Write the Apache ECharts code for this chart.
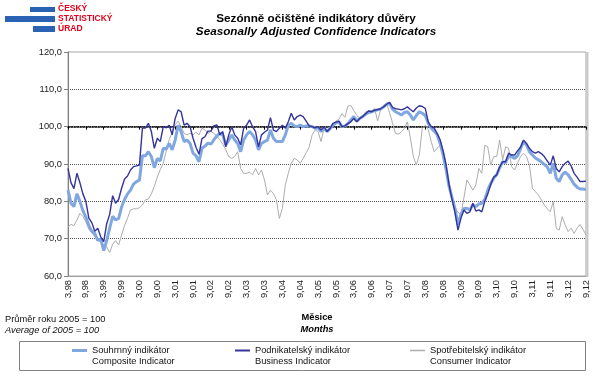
<!DOCTYPE html>
<html>
<head>
<meta charset="utf-8">
<script src="https://cdn.jsdelivr.net/npm/echarts@6/dist/echarts.min.js"></script>
<style>html,body{margin:0;padding:0;background:#fff}#c{width:600px;height:384px}</style>
</head>
<body>
<div id="c"></div>
<script>
// Category labels: months from 3/1998 to 9/2012 (displayed as "M,YY")
const startMonth = 3, startYear = 1998, monthCount = 175;
const months = [];
for (let k = 0; k < monthCount; k++) {
  const t = startMonth - 1 + k;
  const m = t % 12 + 1;
  const y = (startYear + Math.floor(t / 12)) % 100;
  months.push(m + ',' + (y < 10 ? '0' + y : '' + y));
}

const yTicks = [60, 70, 80, 90, 100, 110, 120];

const compositeName = 'Souhrnný indikátor';
const businessName = 'Podnikatelský indikátor';
const consumerName = 'Spotřebitelský indikátor';
const englishNames = {
  'Souhrnný indikátor': 'Composite Indicator',
  'Podnikatelský indikátor': 'Business Indicator',
  'Spotřebitelský indikátor': 'Consumer Indicator'
};

const composite = [
  83, 79.5, 78.6, 82, 80, 77.5, 75.8, 73.5, 72, 71.4,
  69.5, 69.9, 66.8, 69.5, 72.8, 76, 75, 75.4, 78.5, 80.5,
  82, 83, 84.6, 85.3, 85.7, 92.2, 92.2, 93.3, 92, 89,
  91.5, 90.8, 94.2, 94, 95.5, 93.8, 96.4, 100.4, 98.7, 96,
  96.4, 95.5, 92.9, 92.2, 90.6, 94.2, 94.8, 95.6, 95.3, 96.5,
  97.5, 98.2, 97.8, 95.1, 96.4, 97.8, 96.4, 95.5, 93.3, 96.4,
  97.8, 98.7, 97.8, 96.4, 93.8, 95.5, 96, 96.4, 99.1, 96.9,
  96, 96, 96, 97.8, 100.4, 100.9, 100.2, 100, 100.4, 100,
  100.2, 100.2, 100, 99.6, 99.7, 98.7, 99.6, 98.7, 99.4, 100.4,
  101, 101.3, 100, 100.2, 100.8, 101.8, 102.7, 101.5, 102.2, 102.7,
  103.3, 103.8, 104, 104.3, 104.5, 104.7, 105.3, 106, 106.3, 104.7,
  104, 103.6, 103.1, 103.8, 104, 103.1, 101.8, 103, 104, 103.6,
  103, 100.9, 99.6, 98.8, 97.8, 95.5, 92.5, 88.5, 84, 81,
  78, 73.7, 76.5, 78.1, 78.1, 77.7, 79.1, 78.6, 79.3, 79.5,
  80.5, 83, 84.8, 86.2, 87.1, 89, 90.6, 90.4, 92.2, 92,
  91.5, 92.2, 94, 96, 95.1, 93.3, 92.4, 91.6, 91.1, 90.6,
  89.9, 89.2, 87.5, 90.2, 86.2, 85.3, 87.1, 87.8, 87.1, 85.9,
  84.6, 83.8, 83.3, 83.3, 83.2
];

const business = [
  88.8, 85, 83.4, 87.5, 85, 82, 80, 75.5, 74.3, 72,
  72.8, 70.5, 69.2, 74, 76.5, 81.5, 79.5, 80.5, 83.5, 86,
  86.8, 88.4, 89.3, 89.5, 89.7, 99.6, 99.6, 100.9, 98.7, 94.2,
  96.9, 96, 100, 99.7, 100.4, 97.8, 102.2, 104.5, 104, 100.4,
  100.9, 100, 96.9, 94.5, 92.6, 96.8, 97.3, 98.8, 98.8, 100.2,
  100.5, 97.8, 98.7, 94.6, 97.8, 100, 97.8, 96.9, 95.1, 99.6,
  100.4, 101.8, 100, 98.7, 94.6, 97.8, 98.5, 99.1, 102.4, 99.1,
  98.7, 99.6, 100.4, 99.6, 101.3, 103.6, 101.8, 102.7, 103.1, 102.7,
  101.5, 100.2, 100, 99.7, 100, 99.1, 100, 98.7, 99.5, 100.9,
  101.2, 101.5, 100, 100.2, 100.8, 101.3, 102.2, 101.3, 102.2, 102.7,
  103.5, 104.2, 104, 104.4, 104.6, 104.8, 105.3, 106, 106.5, 105.2,
  104.8, 104.7, 104.5, 104.8, 105.3, 104.6, 104, 105, 105.6, 105.4,
  104.9, 101.3, 100, 99.6, 98.2, 96.5, 93.5, 89.8, 84.5, 80.5,
  77, 72.3, 75.5, 77.7, 76.8, 77.2, 79.5, 77.4, 77.7, 77.2,
  80, 82, 84.5, 86.5, 87.1, 89.2, 90.6, 90.6, 92.9, 92.4,
  92.4, 93.5, 94.5, 96.4, 95.5, 94.2, 93.3, 92.9, 93.3, 92.8,
  92, 90.8, 89.7, 92.2, 88.8, 87.9, 89.3, 90.2, 90.8, 89.5,
  87.5, 86.5, 85.3, 85.3, 85.4
];

const consumer = [
  73.2, 73.8, 73.5, 75, 76.8, 76, 74.5, 72.5, 71.6, 70.5,
  69.8, 69, 68.3, 67.8, 66.3, 68.5, 69.5, 68.3, 71, 73.5,
  75.5, 77.7, 78, 78, 78.3, 79, 80.4, 80.6, 82, 84,
  86.5, 88.5, 90.2, 93.5, 96.5, 98.5, 100.5, 101.5, 100, 98.2,
  97.8, 98.2, 97.8, 98.5, 97.8, 99.6, 99.1, 98.2, 98.7, 98.2,
  97.5, 96.5, 95.3, 93.8, 92, 91.5, 92, 93.3, 88.8, 87.5,
  87.5, 87.8, 87.1, 88.8, 87.1, 88.4, 85.7, 81.7, 83, 82.1,
  80.4, 75.4, 78.1, 84.4, 87.5, 90.2, 91.5, 91.1, 90.2, 91.5,
  93, 94.5, 97.8, 99.1, 98.7, 96, 99.6, 99.1, 100, 100.4,
  101.5, 102, 103.5, 102.5, 105.5, 105.7, 104.3, 103, 102.3, 102.8,
  104, 104.3, 104.2, 104.9, 101.5, 104.5, 105.6, 106.2, 103.8, 101,
  98.2, 98, 98.6, 99.5, 101.3, 97, 92, 89.7, 92.4, 99.5,
  100.4, 99.3, 96, 93.3, 94.2, 95.1, 91.5, 88, 85, 81.5,
  78.5, 77, 76.5, 81, 85.7, 84.4, 83, 84.4, 88.8, 87.5,
  95, 94.6, 89.7, 92, 92, 96.4, 91.1, 94.6, 94.2, 89.3,
  88.4, 90.2, 92, 92.9, 92, 89.7, 83.5, 82.6, 81.7, 80.4,
  79, 78, 77.2, 79.9, 72.8, 72.3, 75.9, 73.7, 71.9, 72.8,
  71.4, 72.8, 73.8, 72.5, 71
];

const FONT = "'Liberation Sans', Arial, sans-serif";
const chart = echarts.init(document.getElementById('c'), null, {renderer: 'canvas'});

function legendItem(name, left, thick) {
  return {
    data: [{ name: name, icon: 'rect' }],
    left: left,
    top: 334,
    padding: 0,
    itemWidth: 15,
    itemHeight: thick,
    selectedMode: false,
    textStyle: {
      fontFamily: FONT, fontSize: 9.3, color: '#111', lineHeight: 11,
      rich: { p: { fontSize: 9.3, lineHeight: 11 } }
    },
    formatter: function (n) { return '{p| }\n' + n + '\n' + englishNames[n]; }
  };
}

const option = {
  animation: false,
  backgroundColor: '#fff',
  textStyle: { fontFamily: FONT },
  grid: { left: 68, right: 14, top: 52, bottom: 108, show: true, borderColor: '#a6a6a6', borderWidth: 1 },
  legend: [
    legendItem(compositeName, 72, 3),
    legendItem(businessName, 235, 2),
    legendItem(consumerName, 410, 1.5)
  ],
  xAxis: [
    {
      type: 'category', data: months, boundaryGap: false, position: 'bottom',
      axisLine: { lineStyle: { color: '#a0a0a0', width: 1 } },
      axisTick: { show: false },
      axisLabel: { interval: 5, rotate: 90, fontSize: 9.3, margin: 4, color: '#222', fontFamily: FONT },
      splitLine: { show: false }
    },
    {
      type: 'category', data: months, boundaryGap: false, position: 'top',
      offset: -(224 * 20 / 60),
      axisLine: { lineStyle: { color: '#000', type: 'dotted', width: 1.5 } },
      axisTick: { show: true, inside: true, interval: 5, length: 3, lineStyle: { color: '#000', width: 1 } },
      axisLabel: { show: false },
      splitLine: { show: false }
    }
  ],
  yAxis: {
    type: 'value', min: yTicks[0], max: yTicks[yTicks.length - 1], interval: 10,
    axisLine: { show: true, lineStyle: { color: '#808080' } },
    axisTick: { show: true, length: 4, lineStyle: { color: '#808080' } },
    axisLabel: {
      fontSize: 9.3, color: '#222', margin: 6, fontFamily: FONT,
      formatter: function (v) { return v.toFixed(1).replace('.', ','); }
    },
    splitLine: { show: true, showMinLine: false, showMaxLine: false, lineStyle: { type: 'dotted', color: '#555', width: 1 } }
  },
  series: [
    {
      name: compositeName, type: 'line', data: composite, xAxisIndex: 0, symbol: 'none', z: 3,
      itemStyle: { color: '#80A7E0' }, lineStyle: { color: '#80A7E0', width: 3 }
    },
    {
      name: businessName, type: 'line', data: business, xAxisIndex: 0, symbol: 'none', z: 4,
      itemStyle: { color: '#34349C' }, lineStyle: { color: '#34349C', width: 1.4 }
    },
    {
      name: consumerName, type: 'line', data: consumer, xAxisIndex: 0, symbol: 'none', z: 2,
      itemStyle: { color: '#ADADAD' }, lineStyle: { color: '#ADADAD', width: 1 }
    }
  ],
  graphic: [
    // logo
    { type: 'rect', shape: { x: 30, y: 7, width: 25, height: 5 }, style: { fill: '#2B63B4' } },
    { type: 'rect', shape: { x: 5, y: 16, width: 50, height: 6 }, style: { fill: '#2B63B4' } },
    { type: 'rect', shape: { x: 33, y: 26, width: 22, height: 6 }, style: { fill: '#2B63B4' } },
    { type: 'text', left: 58, top: 4, style: { text: 'ČESKÝ', fill: '#E3001B', font: 'bold 8.5px ' + FONT } },
    { type: 'text', left: 58, top: 14, style: { text: 'STATISTICKÝ', fill: '#E3001B', font: 'bold 8.5px ' + FONT } },
    { type: 'text', left: 58, top: 24, style: { text: 'ÚRAD', fill: '#E3001B', font: 'bold 8.5px ' + FONT } },
    // titles
    { type: 'text', x: 316, y: 19, style: { text: 'Sezónně očištěné indikátory důvěry', fill: '#000', font: 'bold 11.7px ' + FONT, textAlign: 'center', textVerticalAlign: 'middle' } },
    { type: 'text', x: 316, y: 32, style: { text: 'Seasonally Adjusted Confidence Indicators', fill: '#000', font: 'italic bold 11.7px ' + FONT, textAlign: 'center', textVerticalAlign: 'middle' } },
    // notes
    { type: 'text', x: 5, y: 319, style: { text: 'Průměr roku 2005 = 100', fill: '#111', font: '9.3px ' + FONT, textVerticalAlign: 'middle' } },
    { type: 'text', x: 5, y: 330, style: { text: 'Average of 2005 = 100', fill: '#111', font: 'italic 9.3px ' + FONT, textVerticalAlign: 'middle' } },
    // axis title
    { type: 'text', x: 317, y: 317, style: { text: 'Měsice', fill: '#000', font: 'bold 9.3px ' + FONT, textAlign: 'center', textVerticalAlign: 'middle' } },
    { type: 'text', x: 317, y: 329, style: { text: 'Months', fill: '#000', font: 'italic bold 9.3px ' + FONT, textAlign: 'center', textVerticalAlign: 'middle' } },
    // plot right edge shading
    { type: 'line', shape: { x1: 587.5, y1: 52, x2: 587.5, y2: 277 }, style: { stroke: '#c8c8c8', lineWidth: 2 } },
    // legend frame
    { type: 'rect', shape: { x: 19.5, y: 341.5, width: 566, height: 29 }, style: { fill: 'none', stroke: '#808080', lineWidth: 1 }, z: -1 }
  ]
};
chart.setOption(option);
</script>
</body>
</html>
